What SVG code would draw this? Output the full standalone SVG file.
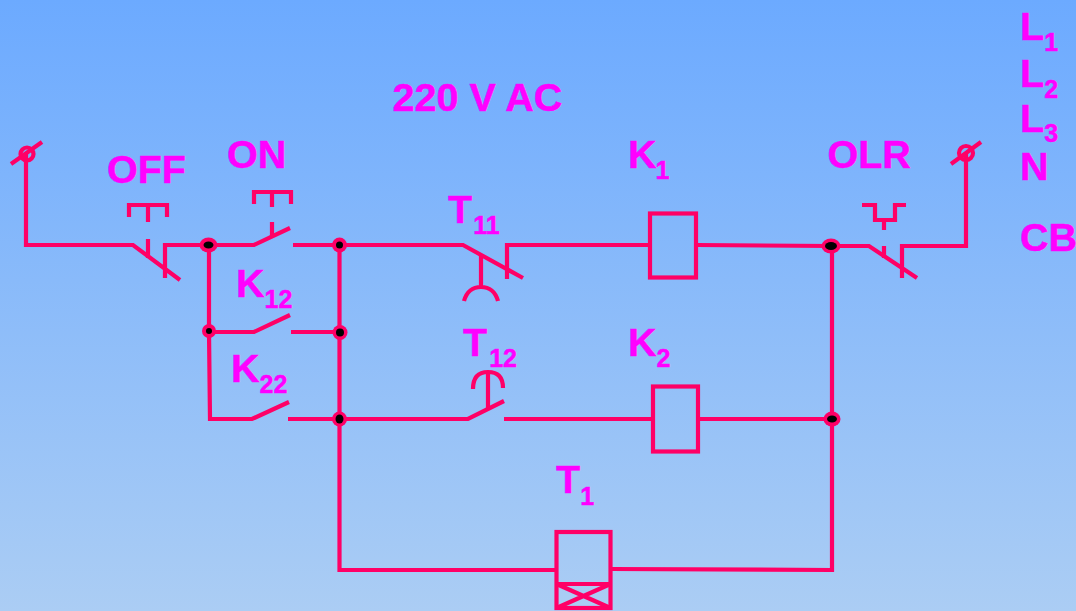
<svg xmlns="http://www.w3.org/2000/svg" width="1076" height="611" viewBox="0 0 1076 611">
<style>
.w{fill:none;stroke:#ff0066;stroke-width:4.2;stroke-linejoin:miter}
.t{font-family:"Liberation Sans",Arial,sans-serif;font-weight:700;fill:#ff00ff;stroke:#ff00ff;stroke-width:.5;font-size:39.500px}
.s{font-size:25px}
.h{fill:#ff0066}
.b{fill:#000}
</style>
<defs>
<linearGradient id="bg" x1="0" y1="0" x2="0" y2="1"><stop offset="0" stop-color="#6caaff"/><stop offset="1" stop-color="#abcdf4"/></linearGradient>
</defs>
<rect width="1076" height="611" fill="url(#bg)"/>
<g id="connectors" class="w">
<path d="M26 153V245H133L180 280M165 278V245H254L290 228"/>
<path d="M209 245V332L210 419H252L289 402"/>
<path d="M209 332H254L290 315M291 332H340"/>
<path d="M288 419H340L468 419L504 401M504 419H653"/>
<path d="M293 245H463L523 278M507 279V245H650"/>
<path d="M339.500 245V570H556"/>
<path d="M697 245L831 246H869L917 278M902 278V246H966V153"/>
<path d="M699 419H832M832 246V570L611 569"/>
</g>
<g id="term-left" class="w"><circle cx="27" cy="154" r="6.500"/><path d="M11 164L42 142"/></g>
<g id="term-right" class="w"><circle cx="966" cy="153" r="7"/><path d="M951 164L981 142"/></g>
<g id="off" class="w"><path d="M129 217V205H167V217M148 205V222M148 239V258"/></g>
<g id="on" class="w"><path d="M254 204V192H291V204M272 192V207M272 222V236"/></g>
<g id="t11" class="w"><path d="M481 255V287M464 301Q468 287 481 287Q494 287 498 301"/></g>
<g id="t12" class="w"><path d="M488 408V372M473 389Q473 372 488 372Q503 372 503 388"/></g>
<g id="olr" class="w"><path d="M862 205H875V220H895V205H906M884 220V230M884 246V258"/></g>
<g id="k1" class="w"><rect x="650" y="213.500" width="46" height="64"/></g>
<g id="k2" class="w"><rect x="653" y="386.500" width="45" height="65"/></g>
<g id="t1" class="w"><rect x="556.500" y="532" width="54" height="76"/><path d="M556.500 584H610.500M556.500 608L610.500 584M556.500 584L610.500 608"/></g>
<g id="nodes">
<ellipse class="h" cx="208.500" cy="245" rx="9" ry="7.500"/><ellipse class="b" cx="208.500" cy="245" rx="5" ry="3.500"/>
<circle class="h" cx="339.500" cy="245" r="7.500"/><circle class="b" cx="339.500" cy="245" r="3.500"/>
<circle class="h" cx="209" cy="331" r="7"/><circle class="b" cx="209" cy="331" r="3"/>
<circle class="h" cx="340" cy="332.500" r="7.500"/><circle class="b" cx="340" cy="332.500" r="4"/>
<circle class="h" cx="339.500" cy="419" r="7.500"/><ellipse class="b" cx="339.500" cy="419" rx="4" ry="4.500"/>
<ellipse class="h" cx="831" cy="246" rx="9.500" ry="7.500"/><ellipse class="b" cx="831" cy="246" rx="6" ry="4"/>
<ellipse class="h" cx="832" cy="419" rx="8.500" ry="7.500"/><ellipse class="b" cx="832" cy="419" rx="5" ry="3.500"/>
</g>
<g id="labels" class="t">
<text x="392.500" y="111">220 V AC</text>
<text x="107" y="183">OFF</text>
<text x="227" y="168">ON</text>
<text x="236" y="297">K<tspan class="s" dy="11">12</tspan></text>
<text x="231" y="382">K<tspan class="s" dy="11">22</tspan></text>
<text x="448" y="223">T<tspan class="s" dx="1" dy="11">11</tspan></text>
<text x="463" y="356">T<tspan class="s" dx="2" dy="11">12</tspan></text>
<text x="628" y="168">K<tspan class="s" dx="-1" dy="11">1</tspan></text>
<text x="628" y="356">K<tspan class="s" dy="11">2</tspan></text>
<text x="556" y="493">T<tspan class="s" dy="12">1</tspan></text>
<text x="827.500" y="168">OLR</text>
<text x="1020" y="40">L<tspan class="s" dy="11">1</tspan></text>
<text x="1020" y="87">L<tspan class="s" dy="11">2</tspan></text>
<text x="1020" y="132">L<tspan class="s" dy="10">3</tspan></text>
<text x="1020" y="180">N</text>
<text x="1020" y="251">CB</text>
</g>
</svg>
